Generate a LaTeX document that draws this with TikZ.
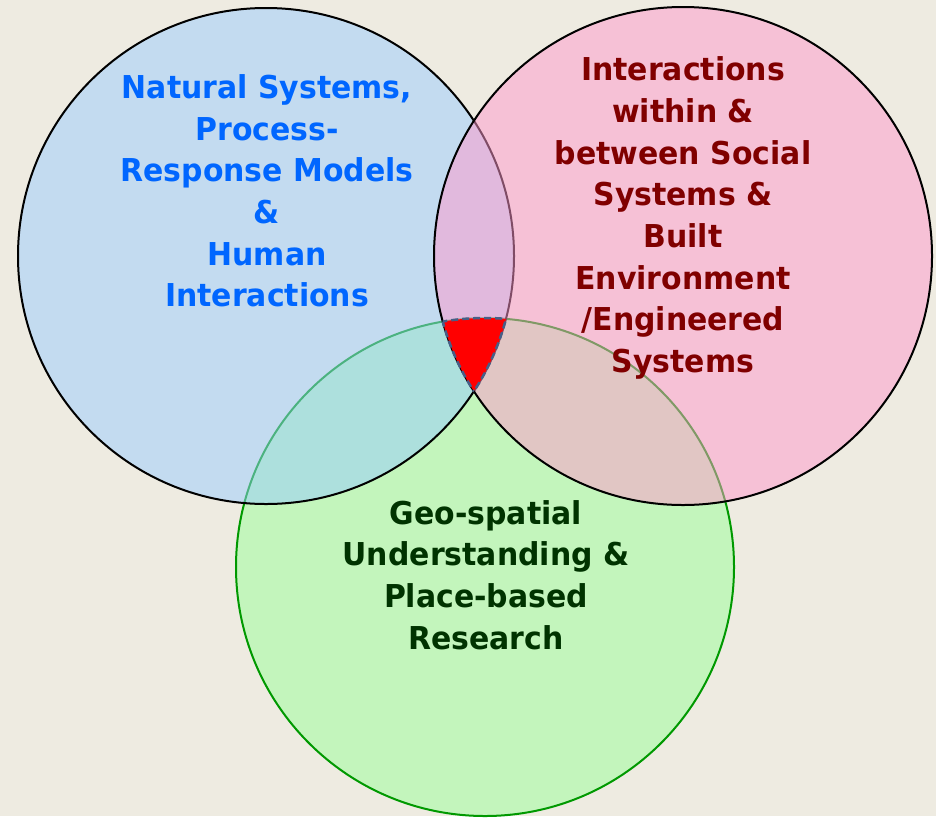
\documentclass[tikz,border=0pt]{standalone}
\usepackage{fontspec}
\setmainfont{DejaVu Sans}[FakeStretch=0.95]
\usepackage{tikz}
\usetikzlibrary{backgrounds}

\definecolor{paper}{HTML}{EEEBE1}
\definecolor{natblue}{HTML}{99CCFF}
\definecolor{socpink}{HTML}{FF99CC}
\definecolor{geogreen}{HTML}{99FF99}
\definecolor{nattext}{HTML}{0066FF}
\definecolor{soctext}{HTML}{800000}
\definecolor{geotext}{HTML}{003300}
\definecolor{geoline}{HTML}{009900}
\definecolor{coreline}{HTML}{465F87}

\begin{document}
\begin{tikzpicture}[x=1pt, y=-1pt, font=\bfseries\fontsize{31.5}{41.7}\selectfont,
    set/.style={line width=2pt, fill opacity=0.5},
    setlabel/.style={align=center, inner sep=0pt},
    coreedge/.style={coreline, line width=2.5pt, dash pattern=on 7pt off 4pt}]
  \fill[paper] (0,0) rectangle (936,816);

  % the three sets, green at the bottom
  \draw[set, fill=geogreen, draw=geoline] (485,567) circle [radius=249pt];
  \draw[set, fill=natblue] (266,256) circle [radius=248pt];
  \draw[set, fill=socpink] (683,256) circle [radius=249pt];

  % where all three meet
  \begin{scope}
    \clip (266,256) circle [radius=248pt];
    \clip (683,256) circle [radius=249pt];
    \fill[red] (485,567) circle [radius=249pt];
    \draw[coreedge] (485,567) circle [radius=249pt];
  \end{scope}
  \begin{scope}
    \clip (266,256) circle [radius=248pt];
    \clip (485,567) circle [radius=249pt];
    \draw[coreedge] (683,256) circle [radius=249pt];
  \end{scope}
  \begin{scope}
    \clip (683,256) circle [radius=249pt];
    \clip (485,567) circle [radius=249pt];
    \draw[coreedge] (266,256) circle [radius=248pt];
  \end{scope}

  \node[setlabel, nattext] (natural) at (267,191)
    {Natural Systems,\\Process-\\Response Models\\\&\\Human\\Interactions};
  \node[setlabel, soctext] (social) at (683,218)
    {Interactions\\within \&\\between Social\\Systems \&\\Built\\Environment\\/Engineered\\Systems};
  \node[setlabel, geotext] (geo) at (486,575)
    {Geo-spatial\\Understanding \&\\Place-based\\Research};
\end{tikzpicture}
\end{document}
